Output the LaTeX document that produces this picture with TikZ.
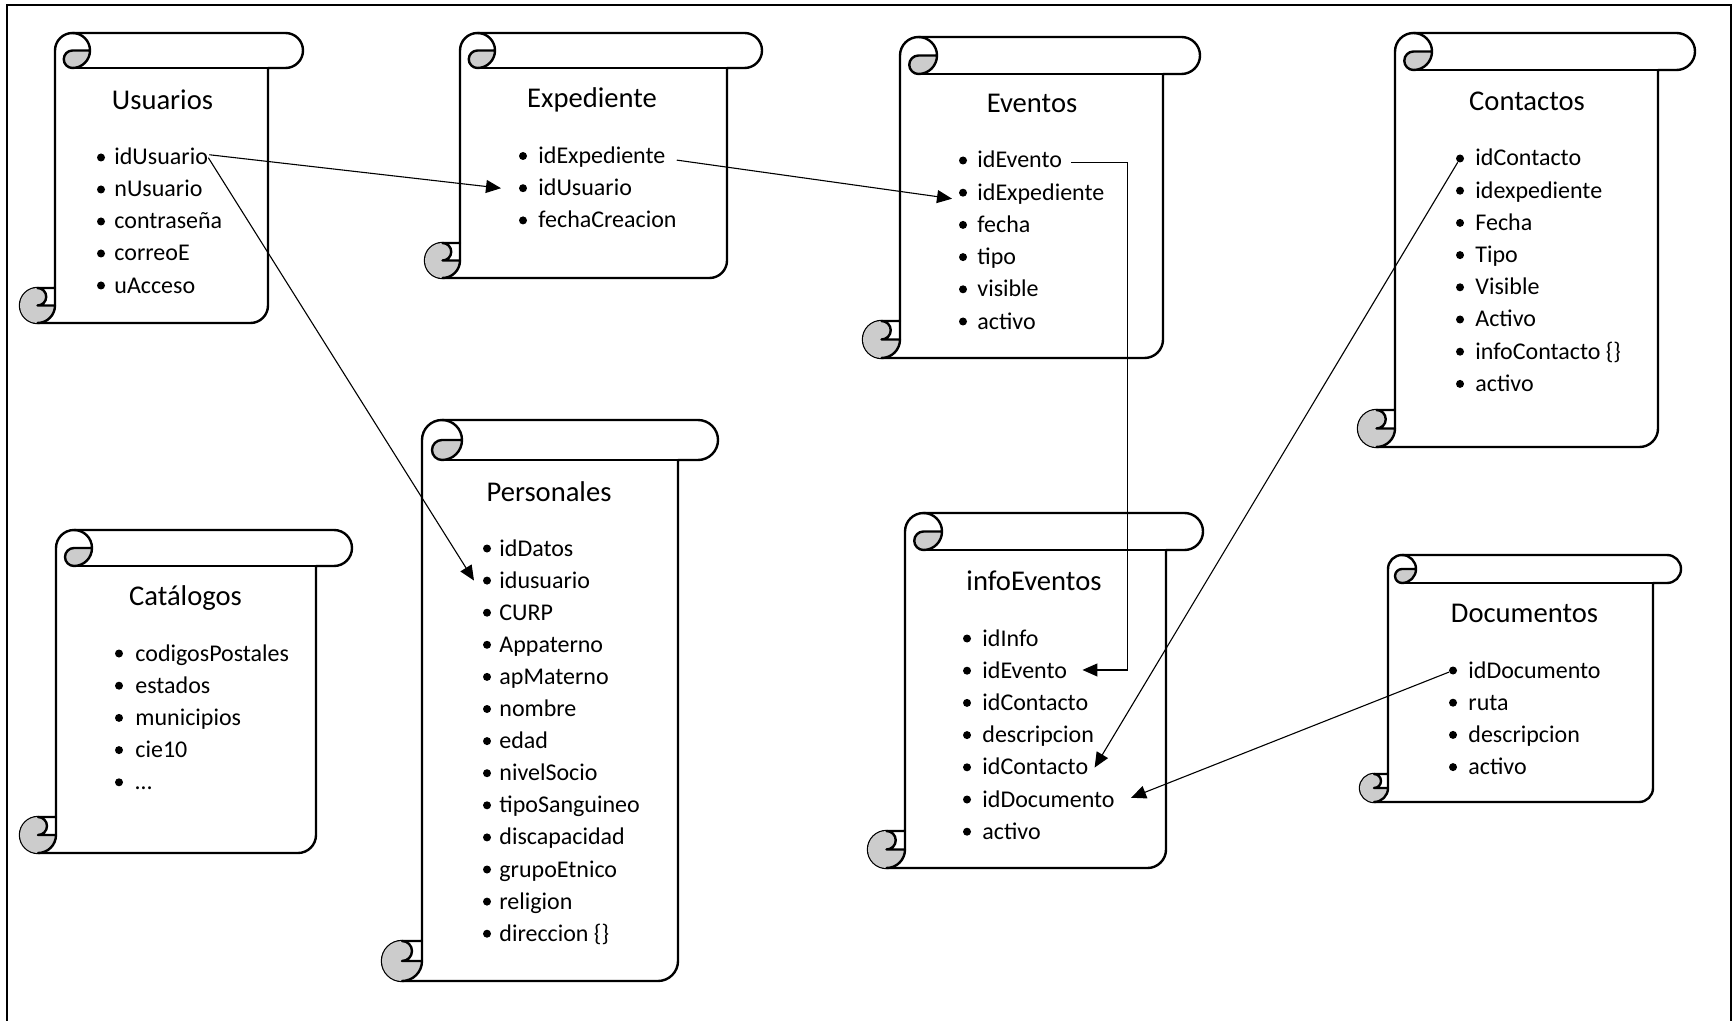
\documentclass[tikz,border=0pt]{standalone}
\usepackage{fontspec}
\setmainfont{Carlito}
\usetikzlibrary{arrows.meta,calc}
\definecolor{curl}{RGB}{204,204,204}

% Vertical scroll: left, top, right, bottom, curl size (all in px units, y downwards)
\newcommand\scrollshape[5]{%
  \pgfmathsetmacro\qL{#1}\pgfmathsetmacro\qT{#2}%
  \pgfmathsetmacro\qR{#3}\pgfmathsetmacro\qB{#4}%
  \pgfmathsetmacro\qc{#5}\pgfmathsetmacro\qh{#5/2}\pgfmathsetmacro\qq{#5/4}%
  % sheet and top roll
  \filldraw[scrollline,fill=white]
    (\qL+\qc,\qB-\qc) -- (\qL+\qc,\qT+\qh)
    arc[start angle=180,delta angle=90,radius=\qh]
    -- (\qR-\qh,\qT) arc[start angle=270,delta angle=180,radius=\qh]
    -- (\qR-\qc,\qT+\qc) -- (\qR-\qc,\qB-\qh)
    arc[start angle=0,delta angle=90,radius=\qh]
    -- (\qL+\qh,\qB) arc[start angle=90,delta angle=180,radius=\qh] -- cycle;
  % shaded curls
  \fill[curl] (\qL+2*\qc,\qT+\qh) arc[start angle=0,delta angle=90,radius=\qh]
    arc[start angle=90,delta angle=180,radius=\qq] -- cycle;
  \fill[curl] (\qL+\qc,\qB-\qh) arc[start angle=0,delta angle=270,radius=\qh]
    arc[start angle=270,delta angle=180,radius=\qq] -- cycle;
  % curl outlines
  \draw[scrollline] (\qL+1.5*\qc,\qT) arc[start angle=270,delta angle=180,radius=\qh]
    arc[start angle=90,delta angle=180,radius=\qq] -- (\qL+2*\qc,\qT+\qh);
  \draw[scrollline] (\qR-\qc,\qT+\qc) -- (\qL+1.5*\qc,\qT+\qc);
  \draw[scrollline] (\qL+\qh,\qB-\qc) arc[start angle=270,delta angle=180,radius=\qq]
    -- (\qL+\qc,\qB-\qh);
  \draw[scrollline] (\qL+\qh,\qB) arc[start angle=90,delta angle=-90,radius=\qh]
    -- (\qL+\qc,\qB-\qc);
}

% Bulleted field list: prefix, bullet x, text x, first baseline, line step, fields
\newcommand\fieldlist[6]{%
  \foreach \t [count=\i] in {#6} {
    \node[dot] (#1-\i-b) at (#2,{#4+(\i-1)*#5-7.5}) {};
    \node[item] (#1-\i) at (#3,{#4+(\i-1)*#5}) {\t};
  }%
}

\begin{document}
\begin{tikzpicture}[x=0.5pt,y=-0.5pt,
  scrollline/.style={line width=1.2pt,line join=round,line cap=round},
  title/.style={anchor=base,inner sep=0pt,font=\fontsize{14.3}{17}\selectfont},
  item/.style={anchor=base west,inner sep=0pt,font=\fontsize{12}{14}\selectfont},
  dot/.style={circle,fill=black,inner sep=0pt,minimum size=4pt},
  link/.style={line width=0.55pt,-{Triangle[length=7.5pt,width=6.5pt]}},
]
\useasboundingbox (0,0) rectangle (1732,1021);
\fill[white] (0,0) rectangle (1732,1021);
\draw[line width=1.1pt] (7,1040) -- (7,5) -- (1731,5) -- (1731,1040);

% tables
\scrollshape{20}{33}{303}{323}{35}
\scrollshape{425}{33}{762}{278}{35}
\scrollshape{863}{37}{1200}{358}{37}
\scrollshape{1358}{33}{1695}{447}{37}
\scrollshape{20}{530}{352}{853}{36}
\scrollshape{382}{420}{718}{981}{40}
\scrollshape{868}{513}{1203}{868}{37}
\scrollshape{1360}{555}{1681}{802}{28}

\node[title] (tUsuarios) at (162.5,110) {Usuarios};
\node[title] (tExpediente) at (592,108) {Expediente};
\node[title] (tEventos) at (1032,113) {Eventos};
\node[title] (tContactos) at (1527,110.5) {Contactos};
\node[title] (tCatalogos) at (185.5,605) {Catálogos};
\node[title] (tPersonales) at (549,501) {Personales};
\node[title] (tInfo) at (1034,590) {infoEventos};
\node[title] (tDocumentos) at (1524.5,622) {Documentos};

\fieldlist{u}{101}{114}{165}{32}{idUsuario,nUsuario,contraseña,correoE,uAcceso}
\fieldlist{e}{523}{538}{163.5}{32.2}{idExpediente,idUsuario,fechaCreacion}
\fieldlist{ev}{963}{977}{168}{32.2}{idEvento,idExpediente,fecha,tipo,visible,activo}
\fieldlist{c}{1460}{1475}{166}{32.2}{idContacto,idexpediente,Fecha,Tipo,Visible,Activo,{infoContacto \{\}},activo}
\fieldlist{k}{119}{135}{661}{32.2}{codigosPostales,estados,municipios,cie10,…}
\fieldlist{p}{487}{499}{556}{32.1}{idDatos,idusuario,CURP,Appaterno,apMaterno,nombre,edad,nivelSocio,tipoSanguineo,discapacidad,grupoEtnico,religion,{direccion \{\}}}
\fieldlist{i}{967}{982}{646}{32.2}{idInfo,idEvento,idContacto,descripcion,idContacto,idDocumento,activo}
\fieldlist{d}{1453}{1468}{678}{32.2}{idDocumento,ruta,descripcion,activo}

% relations
\draw[link] ($(u-1.east)+(1,-2)$) -- ($(e-2-b)+(-22,0)$);
\draw[link] ($(u-1.east)+(0,1)$) -- ($(p-2-b)+(-13,0)$);
\draw[link] ($(e-1.east)+(11,3)$) -- ($(ev-2-b)+(-11,6)$);
\draw[link] ($(ev-1.east)+(9,3)$) -- ++(56,0) |- ($(i-2.east)+(15,0)$);
\draw[link] (c-1-b) -- ($(i-5.east)+(6,1)$);
\draw[link] (d-1-b) -- ($(i-6.east)+(16,-1)$);
\end{tikzpicture}
\end{document}
